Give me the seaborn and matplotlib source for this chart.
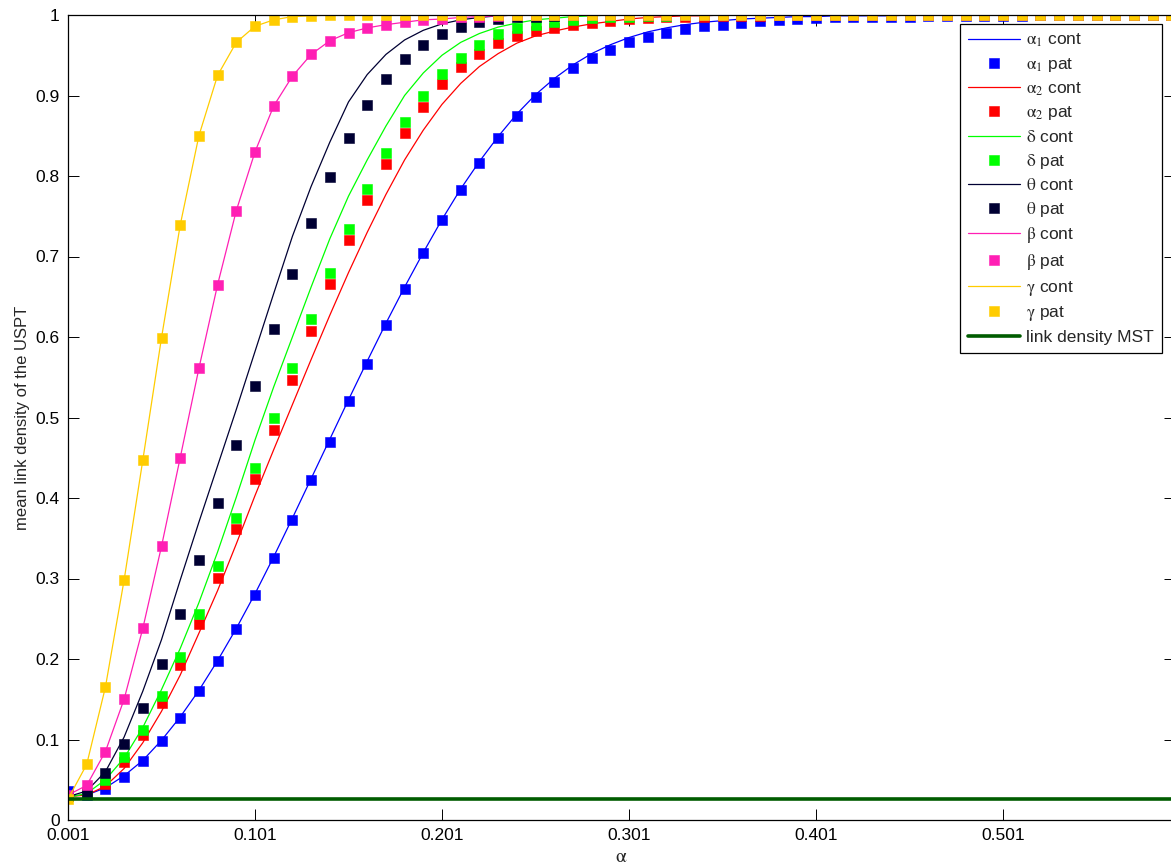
import numpy as np
import pandas as pd
import matplotlib
matplotlib.use("Agg")
import matplotlib.pyplot as plt
import seaborn as sns

# ---------------- data ----------------
alpha = [0.001, 0.011, 0.021, 0.031, 0.041, 0.051, 0.061, 0.071, 0.081, 0.091,
         0.101, 0.111, 0.121, 0.131, 0.141, 0.151, 0.161, 0.171, 0.181, 0.191,
         0.201, 0.211, 0.221, 0.231, 0.241, 0.251, 0.261, 0.271, 0.281, 0.291,
         0.301, 0.311, 0.321, 0.331, 0.341, 0.351, 0.361, 0.371, 0.381, 0.391,
         0.401, 0.411, 0.421, 0.431, 0.441, 0.451, 0.461, 0.471, 0.481, 0.491,
         0.501, 0.511, 0.521, 0.531, 0.541, 0.551, 0.561, 0.571, 0.581, 0.591]

alpha1_cont = [0.030, 0.031, 0.040, 0.055, 0.074, 0.099, 0.128, 0.161, 0.198, 0.238,
               0.281, 0.327, 0.375, 0.424, 0.473, 0.522, 0.570, 0.617, 0.662, 0.705,
               0.746, 0.784, 0.818, 0.849, 0.877, 0.901, 0.921, 0.938, 0.952, 0.963,
               0.972, 0.979, 0.984, 0.988, 0.991, 0.993, 0.995, 0.996, 0.997, 0.998,
               0.998, 0.999, 0.999, 0.999, 0.999, 1.000, 1.000, 1.000, 1.000, 1.000,
               1.000, 1.000, 1.000, 1.000, 1.000, 1.000, 1.000, 1.000, 1.000, 1.000]
alpha1_pat = [0.036, 0.031, 0.039, 0.054, 0.073, 0.098, 0.127, 0.160, 0.197, 0.237,
              0.280, 0.326, 0.373, 0.422, 0.470, 0.520, 0.567, 0.615, 0.660, 0.704,
              0.745, 0.782, 0.816, 0.847, 0.875, 0.898, 0.917, 0.934, 0.947, 0.957,
              0.966, 0.973, 0.978, 0.982, 0.986, 0.988, 0.990, 0.992, 0.994, 0.995,
              0.996, 0.997, 0.997, 0.998, 0.998, 0.998, 0.999, 0.999, 0.999, 0.999,
              0.999, 0.999, 1.000, 1.000, 1.000, 1.000, 1.000, 1.000, 1.000, 1.000]

alpha2_cont = [0.029, 0.031, 0.042, 0.064, 0.096, 0.135, 0.180, 0.232, 0.285, 0.343,
               0.403, 0.460, 0.516, 0.572, 0.627, 0.680, 0.730, 0.777, 0.820, 0.857,
               0.889, 0.915, 0.936, 0.952, 0.965, 0.974, 0.980, 0.985, 0.989, 0.992,
               0.995, 0.997, 0.998, 0.999, 0.999, 1.000, 1.000, 1.000, 1.000, 1.000,
               1.000, 1.000, 1.000, 1.000, 1.000, 1.000, 1.000, 1.000, 1.000, 1.000,
               1.000, 1.000, 1.000, 1.000, 1.000, 1.000, 1.000, 1.000, 1.000, 1.000]
alpha2_pat = [0.030, 0.033, 0.045, 0.072, 0.105, 0.145, 0.193, 0.244, 0.301, 0.361,
              0.423, 0.485, 0.546, 0.608, 0.666, 0.720, 0.770, 0.815, 0.853, 0.886,
              0.914, 0.935, 0.952, 0.965, 0.974, 0.980, 0.984, 0.988, 0.990, 0.993,
              0.995, 0.996, 0.997, 0.998, 0.998, 0.999, 0.999, 0.999, 1.000, 1.000,
              1.000, 1.000, 1.000, 1.000, 1.000, 1.000, 1.000, 1.000, 1.000, 1.000,
              1.000, 1.000, 1.000, 1.000, 1.000, 1.000, 1.000, 1.000, 1.000, 1.000]

delta_cont = [0.028, 0.033, 0.050, 0.077, 0.115, 0.162, 0.213, 0.270, 0.333, 0.401,
              0.472, 0.538, 0.600, 0.662, 0.722, 0.775, 0.820, 0.862, 0.900, 0.928,
              0.950, 0.966, 0.977, 0.985, 0.990, 0.994, 0.996, 0.998, 0.999, 1.000,
              1.000, 1.000, 1.000, 1.000, 1.000, 1.000, 1.000, 1.000, 1.000, 1.000,
              1.000, 1.000, 1.000, 1.000, 1.000, 1.000, 1.000, 1.000, 1.000, 1.000,
              1.000, 1.000, 1.000, 1.000, 1.000, 1.000, 1.000, 1.000, 1.000, 1.000]
delta_pat = [0.030, 0.033, 0.050, 0.078, 0.112, 0.154, 0.202, 0.256, 0.315, 0.375,
             0.437, 0.500, 0.562, 0.622, 0.680, 0.734, 0.784, 0.829, 0.867, 0.900,
             0.927, 0.947, 0.963, 0.976, 0.984, 0.988, 0.991, 0.994, 0.996, 0.997,
             0.998, 0.999, 0.999, 1.000, 1.000, 1.000, 1.000, 1.000, 1.000, 1.000,
             1.000, 1.000, 1.000, 1.000, 1.000, 1.000, 1.000, 1.000, 1.000, 1.000,
             1.000, 1.000, 1.000, 1.000, 1.000, 1.000, 1.000, 1.000, 1.000, 1.000]

theta_cont = [0.029, 0.036, 0.060, 0.103, 0.160, 0.224, 0.298, 0.370, 0.440, 0.510,
              0.582, 0.654, 0.725, 0.787, 0.842, 0.892, 0.926, 0.951, 0.969, 0.981,
              0.989, 0.994, 0.997, 0.999, 1.000, 1.000, 1.000, 1.000, 1.000, 1.000,
              1.000, 1.000, 1.000, 1.000, 1.000, 1.000, 1.000, 1.000, 1.000, 1.000,
              1.000, 1.000, 1.000, 1.000, 1.000, 1.000, 1.000, 1.000, 1.000, 1.000,
              1.000, 1.000, 1.000, 1.000, 1.000, 1.000, 1.000, 1.000, 1.000, 1.000]
theta_pat = [0.030, 0.032, 0.059, 0.094, 0.139, 0.194, 0.256, 0.323, 0.394, 0.466,
             0.539, 0.610, 0.678, 0.741, 0.799, 0.847, 0.888, 0.921, 0.945, 0.963,
             0.977, 0.985, 0.991, 0.995, 0.997, 0.998, 0.999, 1.000, 1.000, 1.000,
             1.000, 1.000, 1.000, 1.000, 1.000, 1.000, 1.000, 1.000, 1.000, 1.000,
             1.000, 1.000, 1.000, 1.000, 1.000, 1.000, 1.000, 1.000, 1.000, 1.000,
             1.000, 1.000, 1.000, 1.000, 1.000, 1.000, 1.000, 1.000, 1.000, 1.000]

beta_pat = [0.031, 0.043, 0.085, 0.150, 0.238, 0.340, 0.450, 0.561, 0.665, 0.757,
            0.830, 0.887, 0.924, 0.951, 0.968, 0.978, 0.984, 0.988, 0.991, 0.994,
            0.995, 0.997, 0.998, 0.999, 1.000, 1.000, 1.000, 1.000, 1.000, 1.000,
            1.000, 1.000, 1.000, 1.000, 1.000, 1.000, 1.000, 1.000, 1.000, 1.000,
            1.000, 1.000, 1.000, 1.000, 1.000, 1.000, 1.000, 1.000, 1.000, 1.000,
            1.000, 1.000, 1.000, 1.000, 1.000, 1.000, 1.000, 1.000, 1.000, 1.000]
beta_cont = beta_pat

gamma_pat = [0.026, 0.069, 0.165, 0.298, 0.447, 0.599, 0.739, 0.850, 0.925, 0.966,
             0.986, 0.994, 0.998, 0.999, 1.000, 1.000, 1.000, 1.000, 1.000, 1.000,
             1.000, 1.000, 1.000, 1.000, 1.000, 1.000, 1.000, 1.000, 1.000, 1.000,
             1.000, 1.000, 1.000, 1.000, 1.000, 1.000, 1.000, 1.000, 1.000, 1.000,
             1.000, 1.000, 1.000, 1.000, 1.000, 1.000, 1.000, 1.000, 1.000, 1.000,
             1.000, 1.000, 1.000, 1.000, 1.000, 1.000, 1.000, 1.000, 1.000, 1.000]
gamma_cont = gamma_pat

mst_density = 0.026

x_ticks = [0.001, 0.101, 0.201, 0.301, 0.401, 0.501]
x_tick_labels = ["0.001", "0.101", "0.201", "0.301", "0.401", "0.501"]
y_ticks = [0, 0.1, 0.2, 0.3, 0.4, 0.5, 0.6, 0.7, 0.8, 0.9, 1]
y_tick_labels = ["0", "0.1", "0.2", "0.3", "0.4", "0.5", "0.6", "0.7", "0.8", "0.9", "1"]

# ---------------- style ----------------
sns.set_theme(style="ticks")
plt.rcParams["font.family"] = ["Liberation Sans", "DejaVu Sans"]
plt.rcParams["mathtext.fontset"] = "stix"

c_blue = "#0000ff"
c_red = "#ff0000"
c_green = "#00ff00"
c_navy = "#000033"
c_pink = "#ff1fb4"
c_yellow = "#ffcc00"
c_mst = "#005c00"

fig = plt.figure(figsize=(11.71, 8.65), dpi=100)
W, H = 1171, 865
ax = fig.add_axes([68 / W, (H - 820) / H, (1174.5 - 68) / W, (820 - 15) / H])

series = [
    (r"$\mathrm{\alpha}_1$ cont", alpha1_cont, c_blue, "line"),
    (r"$\mathrm{\alpha}_1$ pat", alpha1_pat, c_blue, "pat"),
    (r"$\mathrm{\alpha}_2$ cont", alpha2_cont, c_red, "line"),
    (r"$\mathrm{\alpha}_2$ pat", alpha2_pat, c_red, "pat"),
    (r"$\mathrm{\delta}$ cont", delta_cont, c_green, "line"),
    (r"$\mathrm{\delta}$ pat", delta_pat, c_green, "pat"),
    (r"$\mathrm{\theta}$ cont", theta_cont, c_navy, "line"),
    (r"$\mathrm{\theta}$ pat", theta_pat, c_navy, "pat"),
    (r"$\mathrm{\beta}$ cont", beta_cont, c_pink, "line"),
    (r"$\mathrm{\beta}$ pat", beta_pat, c_pink, "pat"),
    (r"$\mathrm{\gamma}$ cont", gamma_cont, c_yellow, "line"),
    (r"$\mathrm{\gamma}$ pat", gamma_pat, c_yellow, "pat"),
]

for label, vals, col, kind in series:
    df = pd.DataFrame({"alpha": alpha, "density": vals})
    if kind == "line":
        sns.lineplot(data=df, x="alpha", y="density", color=col, linewidth=0.9,
                     label=label, ax=ax, sort=False)
    else:
        sns.lineplot(data=df, x="alpha", y="density", color=col, linestyle="",
                     marker="s", markersize=7, markeredgecolor=col,
                     markeredgewidth=0.4, label=label, ax=ax, sort=False)

df_mst = pd.DataFrame({"alpha": alpha, "density": [mst_density] * len(alpha)})
sns.lineplot(data=df_mst, x="alpha", y="density", color=c_mst, linewidth=2.6,
             label="link density MST", ax=ax, sort=False)

ax.set_xlim(0.001, 0.001 + (1174.5 - 68) / 1870)
ax.set_ylim(0, 1)
ax.set_xticks(x_ticks)
ax.set_xticklabels(x_tick_labels)
ax.set_yticks(y_ticks)
ax.set_yticklabels(y_tick_labels)
ax.tick_params(direction="in", length=8, width=0.7, top=True, right=True,
               labelsize=12.5, colors="black", pad=6)
for sp in ax.spines.values():
    sp.set_linewidth(0.9)
    sp.set_color("black")

ax.set_xlabel(r"$\mathrm{\alpha}$", fontsize=14, labelpad=4)
ax.set_ylabel("mean link density of the USPT", fontsize=12)

leg = ax.legend(loc="upper right", bbox_to_anchor=((1162 - 68) / 1106.5, (820 - 24) / 805),
                borderaxespad=0, fontsize=12.5, frameon=True, fancybox=False,
                framealpha=1, edgecolor="black", handlelength=3.0,
                handletextpad=0.35, labelspacing=0.38, borderpad=0.45)
leg.get_frame().set_linewidth(0.9)

fig.savefig("out.png", dpi=100)
